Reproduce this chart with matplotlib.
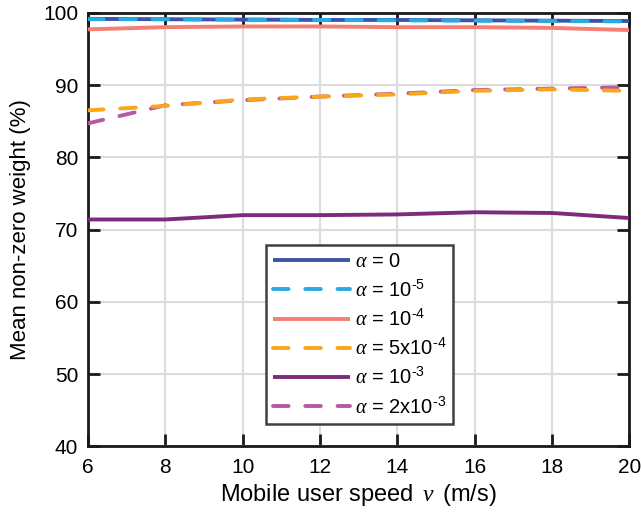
import matplotlib
matplotlib.use("Agg")
import matplotlib.pyplot as plt

plt.rcParams['font.family'] = ['Liberation Sans', 'DejaVu Sans']
plt.rcParams['mathtext.fontset'] = 'custom'
plt.rcParams['mathtext.rm'] = 'Liberation Sans'
plt.rcParams['mathtext.it'] = 'Liberation Serif:italic'

speed = [6, 8, 10, 12, 14, 16, 18, 20]
w_a0 = [99.15, 99.1, 99.05, 99.0, 99.0, 98.95, 98.9, 98.85]
w_a1e5 = [99.1, 99.1, 99.05, 99.0, 98.95, 98.9, 98.85, 98.8]
w_a1e4 = [97.7, 98.0, 98.1, 98.1, 98.0, 98.0, 97.9, 97.6]
w_a5e4 = [86.5, 87.1, 88.0, 88.4, 88.7, 89.2, 89.4, 89.2]
w_a1e3 = [71.4, 71.4, 72.0, 72.0, 72.1, 72.4, 72.3, 71.6]
w_a2e3 = [84.7, 87.2, 87.9, 88.4, 88.8, 89.3, 89.5, 89.7]

labels = [r'$\alpha$ = 0', r'$\alpha$ = 10$^{\text{-5}}$', r'$\alpha$ = 10$^{\text{-4}}$',
          r'$\alpha$ = 5x10$^{\text{-4}}$', r'$\alpha$ = 10$^{\text{-3}}$',
          r'$\alpha$ = 2x10$^{\text{-3}}$']
colors = ['#3B55A5', '#2AAAE2', '#F47F72', '#FAA51A', '#7E2A7E', '#B659A6']
dashed = [False, True, False, True, False, True]
zorders = [3, 4, 3, 5, 3, 4]
series = [w_a0, w_a1e5, w_a1e4, w_a5e4, w_a1e3, w_a2e3]

fig = plt.figure(figsize=(6.41, 5.19), dpi=100)
ax = fig.add_axes([0.1373, 0.1397, 0.8445, 0.8358])

for ys, lab, c, d, z in zip(series, labels, colors, dashed, zorders):
    if d:
        ax.plot(speed, ys, color=c, lw=2.8, label=lab, zorder=z,
                dashes=(4.0, 4.3), dash_capstyle='round')
    else:
        ax.plot(speed, ys, color=c, lw=2.8, label=lab, zorder=z,
                solid_capstyle='butt')

ax.set_xlim(6, 20)
ax.set_ylim(40, 100)
ax.set_xticks(range(6, 21, 2))
ax.set_yticks(range(40, 101, 10))
ax.grid(True, color='#DCDCDC', lw=1.5, zorder=0)
ax.set_axisbelow(True)
for s in ax.spines.values():
    s.set_linewidth(2.0)
    s.set_color('#1A1A1A')
ax.tick_params(direction='in', length=8.5, width=2.0, color='#1A1A1A',
               top=True, right=True, labelsize=15)
ax.tick_params(axis='x', pad=8)
ax.tick_params(axis='y', pad=7)

ax.set_xlabel(r'Mobile user speed $\,v\,$ (m/s)', fontsize=17, labelpad=4)
ax.set_ylabel('Mean non-zero weight (%)', fontsize=16, labelpad=9)

leg = ax.legend(loc='upper left', bbox_to_anchor=(0.329, 0.4645),
                fontsize=14.5, handlelength=3.8, handletextpad=0.25,
                labelspacing=0.4, borderpad=0.35, borderaxespad=0,
                fancybox=False, framealpha=1)
leg.get_frame().set_edgecolor('#404040')
leg.get_frame().set_linewidth(1.8)

fig.savefig('out.png', dpi=100)
